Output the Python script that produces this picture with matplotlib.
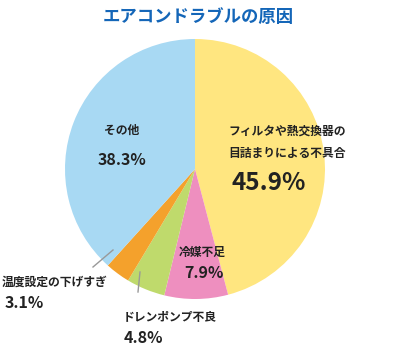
import matplotlib
matplotlib.use('Agg')
import matplotlib.pyplot as plt

plt.rcParams['font.family'] = ['Noto Sans CJK JP', 'DejaVu Sans']

labels = ['フィルタや熱交換器の\n目詰まりによる不具合', '冷媒不足', 'ドレンポンプ不良', '温度設定の下げすぎ', 'その他']
values = [45.9, 7.9, 4.8, 3.1, 38.3]
colors = ['#FFE680', '#EE8FBF', '#BFDA6C', '#F4A12C', '#A8D9F3']

W, H = 400, 358
fig = plt.figure(figsize=(W / 100, H / 100), dpi=100)

def fx(x):
    return x / W

def fy(y):
    return 1 - y / H

# pie centre and radius in pixels
cx, cy, r = 195, 169, 130
ax = fig.add_axes([fx(cx - r), fy(cy + r), 2 * r / W, 2 * r / H])
ax.pie(values, colors=colors, startangle=90, counterclock=False,
       wedgeprops=dict(linewidth=0))
ax.set_aspect('equal')
ax.set_xlim(-1, 1)
ax.set_ylim(-1, 1)
ax.axis('off')

fig.text(fx(198), fy(17), 'エアコンドラブルの原因', ha='center', va='center',
         fontsize=12.5, fontweight='bold', color='#1466B8')

txt = '#222222'
lab_fs = 8.5
pct_fs = 11.5
fig.text(fx(287), fy(142), labels[0], ha='center', va='center', fontsize=lab_fs,
         fontweight='bold', color=txt, linespacing=1.9)
fig.text(fx(232), fy(183), '%.1f%%' % values[0], ha='left', va='center',
         fontsize=17.5, fontweight='bold', color=txt)

fig.text(fx(122), fy(130), labels[4], ha='center', va='center', fontsize=lab_fs,
         fontweight='bold', color=txt)
fig.text(fx(122), fy(160), '%.1f%%' % values[4], ha='center', va='center',
         fontsize=pct_fs, fontweight='bold', color=txt)

fig.text(fx(202), fy(252), labels[1], ha='center', va='center', fontsize=lab_fs,
         fontweight='bold', color=txt)
fig.text(fx(204), fy(273), '%.1f%%' % values[1], ha='center', va='center',
         fontsize=pct_fs, fontweight='bold', color=txt)

fig.text(fx(2), fy(282), labels[3], ha='left', va='center', fontsize=lab_fs,
         fontweight='bold', color=txt)
fig.text(fx(5), fy(303), '%.1f%%' % values[3], ha='left', va='center',
         fontsize=pct_fs, fontweight='bold', color=txt)

fig.text(fx(123), fy(318), labels[2], ha='left', va='center', fontsize=lab_fs,
         fontweight='bold', color=txt)
fig.text(fx(124), fy(338), '%.1f%%' % values[2], ha='left', va='center',
         fontsize=pct_fs, fontweight='bold', color=txt)

# leader lines
fig.add_artist(plt.Line2D([fx(93), fx(113)], [fy(267), fy(250)], color='#999999', lw=1))
fig.add_artist(plt.Line2D([fx(138), fx(140)], [fy(292), fy(272)], color='#999999', lw=1))

plt.savefig('out.png', dpi=100)
